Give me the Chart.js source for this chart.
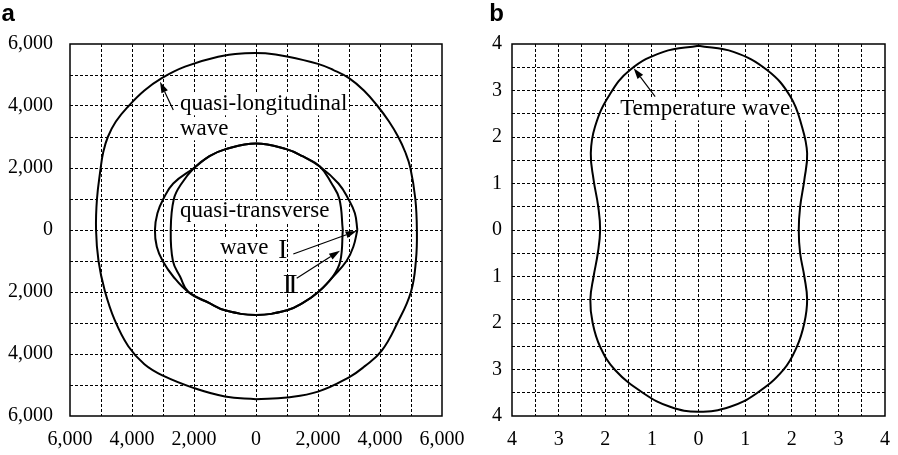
<!DOCTYPE html>
<html><head><meta charset="utf-8">
<script src="https://cdn.jsdelivr.net/npm/chart.js@4.4.1/dist/chart.umd.min.js"></script>
<style>
html,body{margin:0;padding:0;background:#fff;}
#wrap{position:relative;width:898px;height:455px;overflow:hidden;background:#fff;}
#ca{position:absolute;left:0;top:0;}
#cb{position:absolute;left:450px;top:0;}
</style></head><body>
<div id="wrap"><canvas id="ca" width="480" height="455"></canvas><canvas id="cb" width="448" height="455"></canvas></div>
<script>
// ---- tick labels ----
const aTickValues = [-6000,-4000,-2000,0,2000,4000,6000];
const aTickLabels = ['6,000','4,000','2,000','0','2,000','4,000','6,000'];
const bTickValues = [-4,-3,-2,-1,0,1,2,3,4];
const bTickLabels = ['4','3','2','1','0','1','2','3','4'];

// ---- panel a: quasi-longitudinal wave ----
const longX = [0,1000,2000,3000,3500,4050,4560,5000,5160,5190,5140,4980,4820,4590,4290,3920,3480,3000,2500,2000,1000,300,-350,-1220,-2290,-3040,-3600,-4110,-4520,-4780,-4930,-5010,-5130,-5160,-5080,-4880,-4560,-4120,-3600,-3000,-2000,-1000,0];
const longY = [-5460,-5400,-5215,-4753,-4400,-3900,-3000,-1990,-970,0,1000,2000,2500,3000,3500,4000,4500,4900,5160,5360,5600,5700,5700,5590,5270,4900,4500,4000,3500,3000,2500,2000,1000,0,-1000,-1950,-2900,-3750,-4330,-4700,-5100,-5370,-5460];

// ---- panel a: quasi-transverse wave I ----
const trans1X = [3270,3190,2980,2660,2060,1500,1000,0,-1000,-1500,-2000,-2670,-2990,-3180,-3260,-3200,-3010,-2670,-2180,-1500,-1000,0,1000,1500,2010,2490,2920,3140,3270];
const trans1Y = [0,540,1000,1500,2050,2380,2600,2790,2600,2380,2000,1500,1000,540,0,-540,-1000,-1500,-2000,-2360,-2590,-2740,-2590,-2360,-2000,-1500,-1000,-540,0];

// ---- panel a: quasi-transverse wave II ----
const trans2X = [2800,2690,2440,2060,1500,1000,0,-1000,-1500,-2000,-2400,-2650,-2750,-2680,-2450,-2180,-1500,-1000,0,1000,1500,2010,2480,2720,2800];
const trans2Y = [0,1000,1500,2050,2380,2600,2790,2600,2380,2000,1500,1000,0,-1000,-1500,-2000,-2360,-2590,-2740,-2590,-2360,-2000,-1500,-1000,0];

// ---- panel b: temperature wave ----
const tempX = [0,0.75,1.47,1.97,2.22,2.33,2.27,2.18,2.15,2.18,2.27,2.33,2.27,2.11,1.82,1.25,0.68,0,-0.61,-1.18,-1.79,-2.11,-2.27,-2.32,-2.25,-2.16,-2.11,-2.15,-2.25,-2.31,-2.22,-1.93,-1.47,-0.75,0];
const tempY = [3.96,3.83,3.44,2.87,2.22,1.65,1.08,0.5,0,-0.5,-1.0,-1.5,-2.0,-2.51,-3.01,-3.51,-3.8,-3.91,-3.8,-3.51,-3.01,-2.51,-2.0,-1.5,-1.0,-0.5,0,0.5,1.08,1.65,2.22,2.87,3.44,3.83,3.96];

const pts = (xs, ys) => xs.map((x, i) => ({x, y: ys[i]}));
const SERIF = '"Liberation Serif","Times New Roman",serif';
const SANS = '"Liberation Sans",Arial,sans-serif';

Chart.defaults.font.family = SERIF;
Chart.defaults.font.size = 20;
Chart.defaults.color = '#000';

function lineDs(data) {
  return {data, showLine: true, borderColor: '#000', borderWidth: 2, pointRadius: 0,
          tension: 0.42, fill: false, clip: false};
}

function axis(min, max, step, vals, labels, isX, size, pad) {
  return {
    type: 'linear', min, max, position: isX ? 'bottom' : 'left',
    afterBuildTicks: s => {
      const t = [];
      for (let v = min; v <= max + 1e-9; v += step) t.push({value: Math.round(v * 1000) / 1000});
      s.ticks = t;
    },
    afterFit: s => {
      if (isX) s.height = size; else s.width = size;
      s.paddingLeft = 0; s.paddingRight = 0; s.paddingTop = 0; s.paddingBottom = 0;
    },
    ticks: {
      autoSkip: false, maxRotation: 0, minRotation: 0, padding: pad,
      font: {family: SERIF, size: 20}, color: '#000',
      callback: v => { const i = vals.indexOf(v); return i >= 0 ? labels[i] : ''; }
    },
    grid: {
      color: c => (c.tick && (c.tick.value === min || c.tick.value === max)) ? 'rgba(0,0,0,0)' : '#000',
      lineWidth: 1, drawTicks: false
    },
    border: {display: false, dash: [3, 2]}
  };
}

function drawArrow(ctx, x1, y1, x2, y2) {
  ctx.save();
  ctx.strokeStyle = '#000'; ctx.fillStyle = '#000'; ctx.lineWidth = 1.2;
  const ang = Math.atan2(y2 - y1, x2 - x1), L = 11, W = 3.5;
  const bx = x2 - L * Math.cos(ang), by = y2 - L * Math.sin(ang);
  ctx.beginPath(); ctx.moveTo(x1, y1); ctx.lineTo(bx, by); ctx.stroke();
  ctx.beginPath(); ctx.moveTo(x2, y2);
  ctx.lineTo(bx + W * Math.sin(ang), by - W * Math.cos(ang));
  ctx.lineTo(bx - W * Math.sin(ang), by + W * Math.cos(ang));
  ctx.closePath(); ctx.fill();
  ctx.restore();
}

function annPlugin(letter, letterX, texts, arrows) {
  return {
    id: 'ann' + letter,
    beforeDatasetsDraw(chart) {
      const ctx = chart.ctx, sx = chart.scales.x, sy = chart.scales.y;
      ctx.save();
      texts.forEach(t => {
        ctx.font = t.size + 'px ' + SERIF;
        const x = sx.getPixelForValue(t.x), y = sy.getPixelForValue(t.y);
        if (t.bg) {
          const w = ctx.measureText(t.s).width;
          ctx.fillStyle = '#fff';
          ctx.fillRect(x - 1, y - t.size * 0.72, w + 2, t.size * 0.95);
        }
        ctx.fillStyle = '#000';
        ctx.textBaseline = 'alphabetic'; ctx.textAlign = 'left';
        ctx.fillText(t.s, x, y);
      });
      ctx.restore();
    },
    afterDatasetsDraw(chart) {
      const ctx = chart.ctx, sx = chart.scales.x, sy = chart.scales.y, a = chart.chartArea;
      arrows.forEach(r => drawArrow(ctx, sx.getPixelForValue(r[0]), sy.getPixelForValue(r[1]),
                                         sx.getPixelForValue(r[2]), sy.getPixelForValue(r[3])));
      ctx.save();
      ctx.strokeStyle = '#000'; ctx.lineWidth = 1.5;
      ctx.strokeRect(a.left, a.top, a.right - a.left, a.bottom - a.top);
      ctx.font = 'bold 24px ' + SANS; ctx.fillStyle = '#000';
      ctx.textBaseline = 'alphabetic'; ctx.textAlign = 'left';
      ctx.fillText(letter, letterX, 20.7);
      ctx.restore();
    }
  };
}

const common = {
  responsive: false, animation: false, devicePixelRatio: 1,
  plugins: {legend: {display: false}, tooltip: {enabled: false}},
  events: []
};

new Chart(document.getElementById('ca'), {
  type: 'scatter',
  data: {datasets: [lineDs(pts(longX, longY)), lineDs(pts(trans1X, trans1Y)), lineDs(pts(trans2X, trans2Y))]},
  options: Object.assign({}, common, {
    layout: {padding: {left: 0, right: 38, top: 44, bottom: 0}},
    scales: {
      x: axis(-6000, 6000, 1000, aTickValues, aTickLabels, true, 39, 12),
      y: axis(-6000, 6000, 1000, aTickValues, aTickLabels, false, 70, 17)
    }
  }),
  plugins: [annPlugin('a', 1.5, [
    {s: 'quasi-longitudinal', x: -2452, y: 3871, size: 23, bg: true},
    {s: 'wave', x: -2452, y: 3065, size: 23, bg: true},
    {s: 'quasi-transverse', x: -2452, y: 419, size: 23, bg: true},
    {s: 'wave', x: -1161, y: -774, size: 23, bg: true},
    {s: 'I', x: 720, y: -903, size: 27, bg: false},
    {s: 'I', x: 861, y: -2042, size: 28, bg: false},
    {s: 'I', x: 1040, y: -2042, size: 28, bg: false}
  ], [
    [-2668, 3871, -3097, 4784],
    [1203, -774, 3248, -32],
    [1313, -1558, 2710, -668]
  ])]
});

new Chart(document.getElementById('cb'), {
  type: 'scatter',
  data: {datasets: [lineDs(pts(tempX, tempY))]},
  options: Object.assign({}, common, {
    layout: {padding: {left: 0, right: 13, top: 44, bottom: 0}},
    scales: {
      x: axis(-4, 4, 0.5, bTickValues, bTickLabels, true, 39, 12),
      y: axis(-4, 4, 0.5, bTickValues, bTickLabels, false, 62, 10)
    }
  }),
  plugins: [annPlugin('b', 39.3, [
    {s: 'Temperature wave', x: -1.68, y: 2.47, size: 23, bg: true}
  ], [
    [-0.93, 2.87, -1.39, 3.48]
  ])]
});
</script>
</body></html>
